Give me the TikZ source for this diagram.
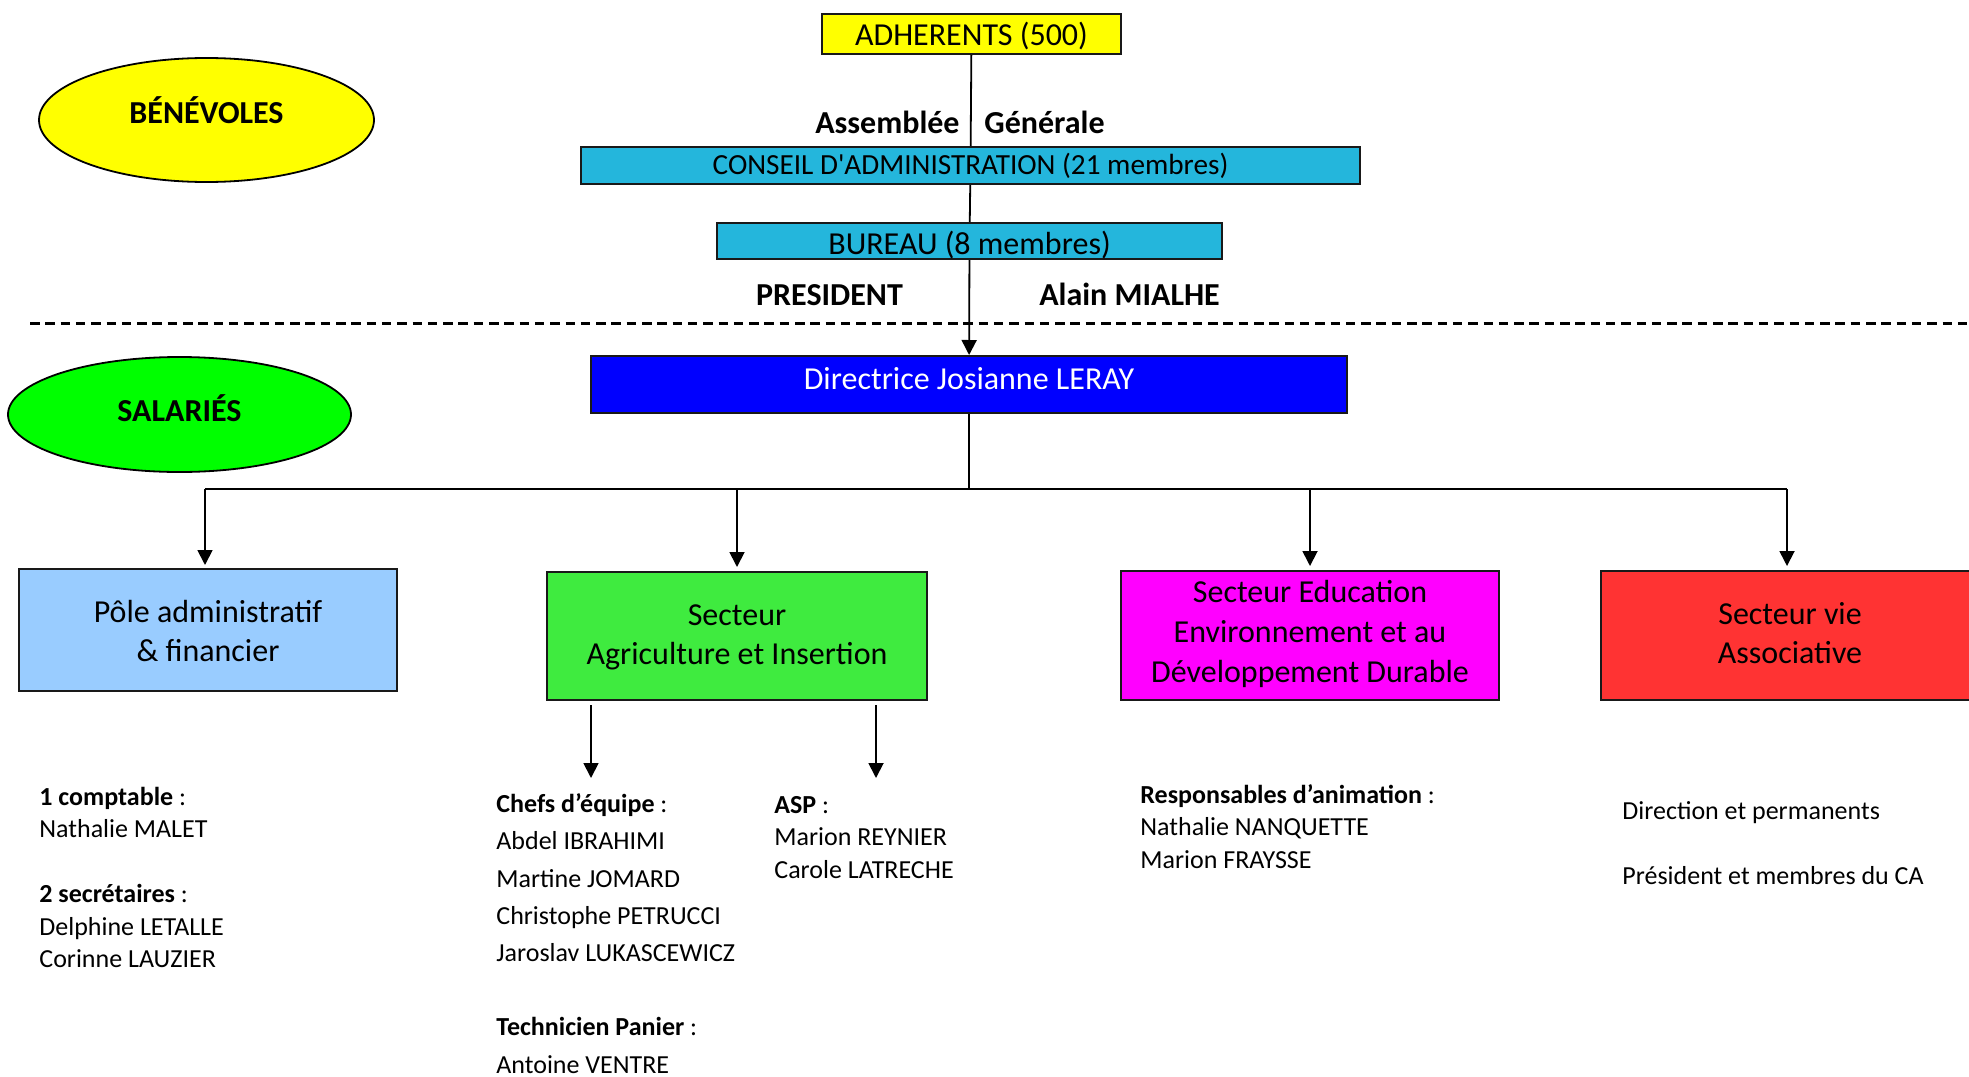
\documentclass[tikz,border=0pt]{standalone}
\usepackage{fontspec}
\setmainfont{Carlito}
\usetikzlibrary{shapes.geometric,arrows.meta}
\definecolor{jaune}{RGB}{255,255,0}
\definecolor{cyanca}{RGB}{36,182,220}
\definecolor{bleudir}{RGB}{0,0,255}
\definecolor{bleupole}{RGB}{153,204,255}
\definecolor{vertagri}{RGB}{63,235,63}
\definecolor{magentaedu}{RGB}{255,0,255}
\definecolor{rougevie}{RGB}{255,51,51}
\definecolor{vertsal}{RGB}{0,255,0}

\begin{document}
\begin{tikzpicture}[x=0.5pt,y=-0.5pt,>={Triangle[length=7.5pt,width=7.5pt]},
  boite/.style={draw=black!90,line width=1pt,inner sep=0pt,align=center,text depth=0pt,font=\fontsize{16}{19.5}\selectfont},
  bulle/.style={ellipse,draw=black,line width=0.9pt,inner sep=0pt,text depth=0pt,font=\bfseries\fontsize{16}{19.5}\selectfont},
  titre/.style={inner sep=0pt,font=\bfseries\fontsize{16}{19.5}\selectfont},
  liste/.style={align=left,inner sep=0pt,anchor=base west,font=\fontsize{13}{16.25}\selectfont},
  lien/.style={line width=0.9pt}]
  \useasboundingbox (0,0) rectangle (1969,1076);

  \node[bulle,fill=jaune,minimum width=167.5pt,minimum height=62pt,text height=3pt] (benevoles) at (206.5,120) {BÉNÉVOLES};
  \node[bulle,fill=vertsal,minimum width=171.5pt,minimum height=57.5pt,text height=6.5pt] (salaries) at (179.5,414.5) {SALARIÉS};

  \node[boite,fill=jaune,minimum width=149.5pt,minimum height=20pt,text height=11pt] (adherents) at (971.5,34) {ADHERENTS (500)};
  \node[boite,fill=cyanca,minimum width=389.5pt,minimum height=18.5pt,text height=8.5pt,font=\fontsize{14.6}{18}\selectfont] (conseil) at (970.5,165.5) {CONSEIL D\textquotesingle ADMINISTRATION (21 membres)};
  \node[boite,fill=cyanca,minimum width=252.5pt,minimum height=18pt,text height=13pt] (bureau) at (969.5,241) {BUREAU (8 membres)};
  \node[boite,fill=bleudir,text=white,minimum width=378pt,minimum height=28.5pt,text height=4.5pt] (directrice) at (969,384.5) {Directrice Josianne LERAY};

  \node[titre,anchor=base east] (assemblee) at (960,133) {Assemblée};
  \node[titre,anchor=base west] (generale) at (984,133) {Générale};
  \node[titre,anchor=base] (president) at (829.5,305) {PRESIDENT};
  \node[titre,anchor=base] (mialhe) at (1129.5,305) {Alain MIALHE};

  \draw[line width=1.5pt,dash pattern=on 4.75pt off 2.9pt] (30,323) -- (1969,323);

  \node[boite,fill=bleupole,minimum width=189pt,minimum height=61pt,text height=31.7pt] (pole) at (208,630) {Pôle administratif\\\& financier};
  \node[boite,fill=vertagri,minimum width=190pt,minimum height=64pt,text height=28pt] (agri) at (737,636) {Secteur\\Agriculture et Insertion};
  \node[boite,fill=magentaedu,minimum width=189pt,minimum height=64.5pt,text height=46.6pt,font=\fontsize{16}{20}\selectfont] (educ) at (1310,635.5) {Secteur Education\\Environnement et au\\Développement Durable};
  \node[boite,fill=rougevie,minimum width=189pt,minimum height=64.5pt,text height=27.5pt] (vie) at (1790,635.5) {Secteur vie\\Associative};

  \draw[lien] (adherents) -- (conseil);
  \draw[lien] (conseil) -- (bureau);
  \draw[lien,->] (bureau) -- (directrice);
  \coordinate (barre) at (969,489);
  \coordinate (barreG) at (205,489);
  \coordinate (barreD) at (1787,489);
  \draw[lien] (directrice) -- (barre);
  \draw[lien] (barreG) -- (barreD);
  \draw[lien,->] (barreG) -- ([yshift=1.5pt]pole.north -| barreG);
  \draw[lien,->] (agri.north |- barre) -- ([yshift=2pt]agri.north);
  \draw[lien,->] (educ.north |- barre) -- ([yshift=2pt]educ.north);
  \draw[lien,->] (barreD) -- ([yshift=2pt]vie.north -| barreD);

  \coordinate (chefs) at (591,778);
  \coordinate (asp) at (876,778);
  \draw[lien,->] ([yshift=-2pt]agri.south -| chefs) -- (chefs);
  \draw[lien,->] ([yshift=-2pt]agri.south -| asp) -- (asp);

  \node[liste] (admin) at (39,967.5) {\textbf{1 comptable} :\\Nathalie MALET\\[16.25pt]\textbf{2 secrétaires} :\\Delphine LETALLE\\Corinne LAUZIER};
  \node[liste,font=\fontsize{13}{18.6}\selectfont] (equipe) at (496,1073) {\textbf{Chefs d’équipe} :\\Abdel IBRAHIMI\\Martine JOMARD\\Christophe PETRUCCI\\Jaroslav LUKASCEWICZ\\[18.6pt]\textbf{Technicien Panier} :\\Antoine VENTRE};
  \node[liste] (aspnoms) at (774,878) {\textbf{ASP} :\\Marion REYNIER\\Carole LATRECHE};
  \node[liste] (animation) at (1140,868) {\textbf{Responsables d’animation} :\\Nathalie NANQUETTE\\Marion FRAYSSE};
  \node[liste] (associative) at (1622,884) {Direction et permanents\\[16.25pt]Président et membres du CA};
\end{tikzpicture}
\end{document}
